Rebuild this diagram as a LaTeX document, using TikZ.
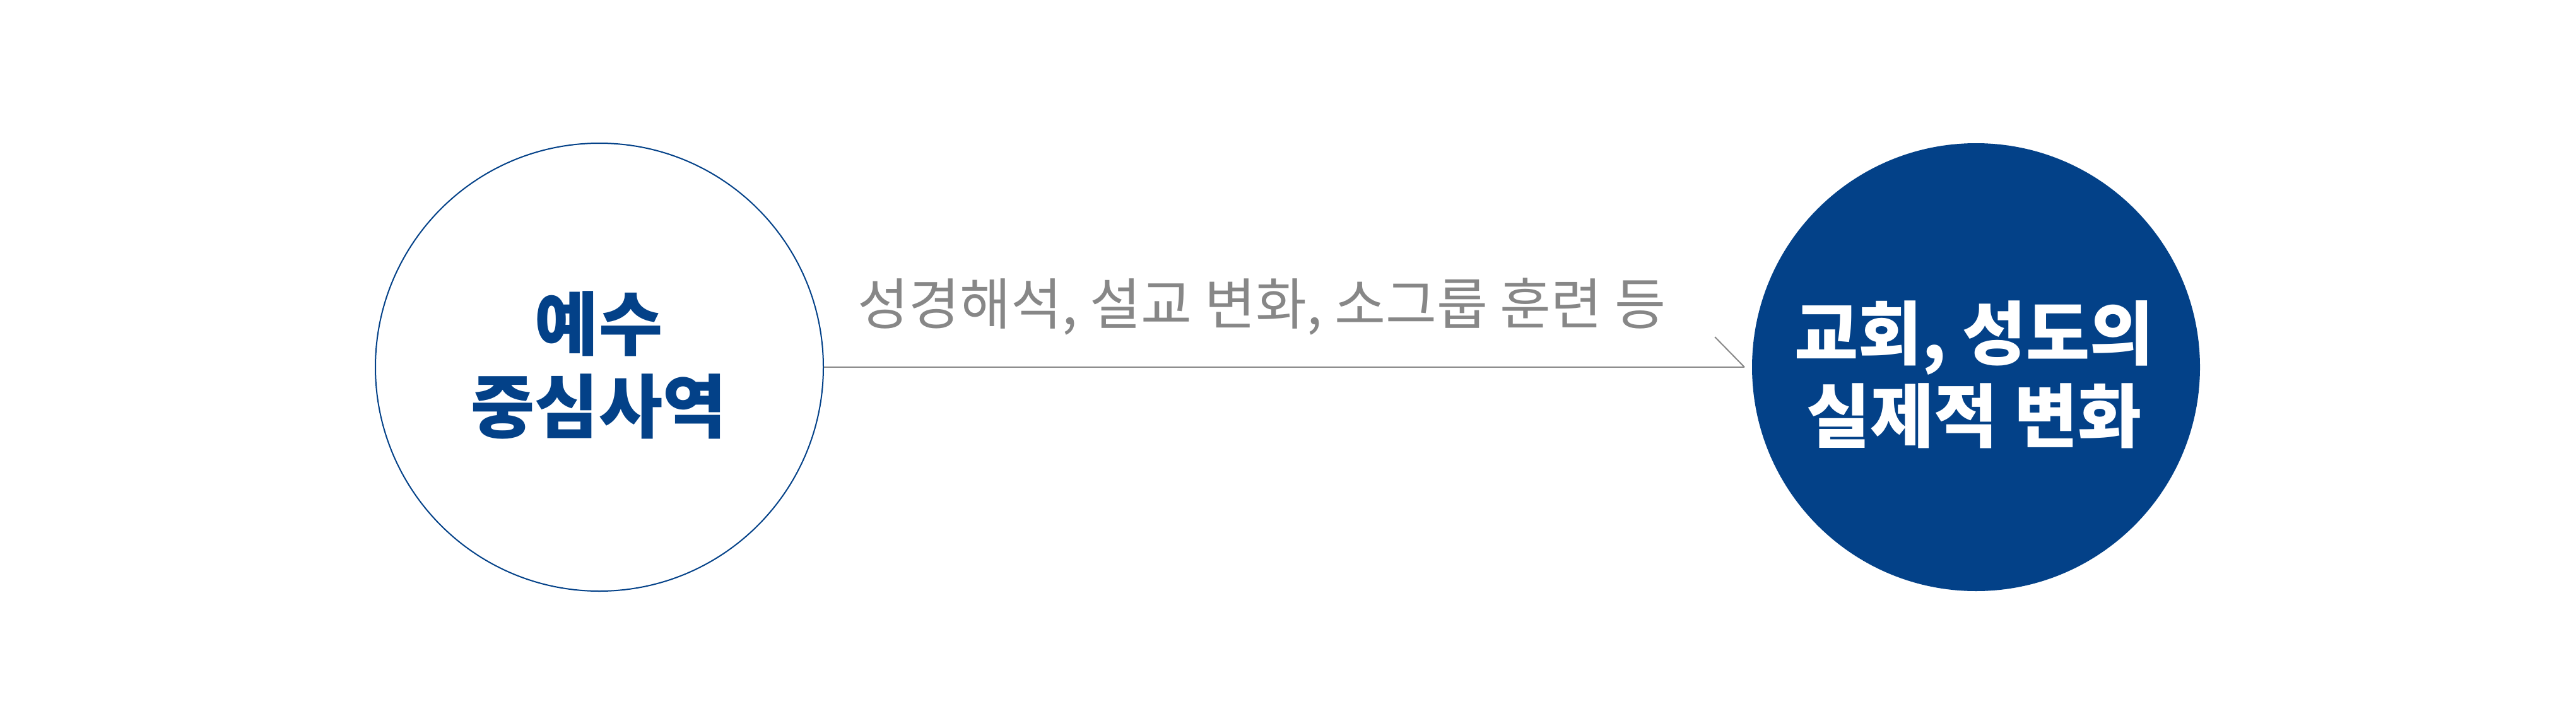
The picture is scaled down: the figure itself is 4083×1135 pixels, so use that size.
\documentclass[tikz,border=0pt]{standalone}
\usepackage{fontspec}
\newfontfamily\krbig{Noto Sans CJK KR}
\newfontfamily\krlab{Noto Sans CJK KR}
\definecolor{navy}{RGB}{3,65,136}
\definecolor{lgray}{RGB}{135,135,135}
\begin{document}
\begin{tikzpicture}[x=1pt,y=-1pt,
  ring/.style={circle,minimum size=710pt,inner sep=0pt,line width=2pt},
  conn/.style={draw=lgray,line width=2.6pt},
  barb/.style={draw=lgray,line width=2pt},
  bigtxt/.style={font=\krbig\bfseries\fontsize{110}{131}\selectfont,align=center,inner sep=0pt},
  lbl/.style={font=\krlab\fontsize{88}{100}\selectfont,text=lgray,inner sep=0pt}]
\useasboundingbox[fill=white] (0,0) rectangle (4083,1135);
\node[ring,draw=navy,fill=white] (L) at (950,582) {};
\node[ring,fill=navy] (R) at (3132,582) {};
\node[bigtxt,text=navy] (Lt) at (949,579) {예수\\중심사역};
\node[bigtxt,text=white] (Rt) at (3129,594) {교회, 성도의\\실제적 변화};
\node[lbl,anchor=base] (M) at (2000,514) {성경해석, 설교 변화, 소그룹 훈련 등};
\coordinate (tip) at (2765,582);
\draw[conn] (L.east) -- (tip);
\draw[barb] (tip) -- ++(-47,-48);
\end{tikzpicture}
\end{document}
